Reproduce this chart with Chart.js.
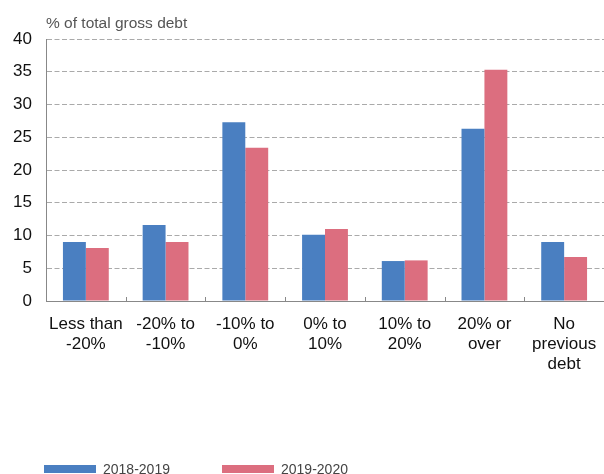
<!DOCTYPE html>
<html>
<head>
<meta charset="utf-8">
<script src="https://cdn.jsdelivr.net/npm/chart.js@4"></script>
<style>
  html, body { margin: 0; padding: 0; background: #fff; }
  #wrap { width: 604px; height: 474px; }
</style>
</head>
<body>
<div id="wrap"><canvas id="debt"></canvas></div>
<script>
const categories = [
    ["Less than", "-20%"],
    ["-20% to", "-10%"],
    ["-10% to", "0%"],
    ["0% to", "10%"],
    ["10% to", "20%"],
    ["20% or", "over"],
    ["No", "previous", "debt"],
];
const share2018 = [9.0, 11.6, 27.3, 10.1, 6.1, 26.3, 9.0];
const share2019 = [8.1, 9.0, 23.4, 11.0, 6.2, 35.3, 6.7];
const yTicks = [0, 5, 10, 15, 20, 25, 30, 35, 40];

const FONT = "'Liberation Sans', Arial, Helvetica, sans-serif";
const BLUE = "#4a7fc1";
const PINK = "#dc6e7f";

// unit label above the y axis
const unitLabel = {
    id: "unitLabel",
    afterDraw(chart) {
        const ctx = chart.ctx;
        ctx.save();
        ctx.font = "15.5px " + FONT;
        ctx.fillStyle = "#555";
        ctx.textAlign = "left";
        ctx.textBaseline = "alphabetic";
        ctx.fillText("% of total gross debt", chart.chartArea.left, 28);
        ctx.restore();
    },
};

// short marks between the category groups, pointing up from the x axis
const groupMarks = {
    id: "groupMarks",
    afterDatasetsDraw(chart) {
        const ctx = chart.ctx;
        const x = chart.scales.x;
        const bottom = chart.chartArea.bottom;
        ctx.save();
        ctx.strokeStyle = "#888";
        ctx.lineWidth = 1;
        ctx.beginPath();
        for (let i = 1; i < chart.data.labels.length; i++) {
            const px = Math.round((x.getPixelForTick(i - 1) + x.getPixelForTick(i)) / 2) + 0.5;
            ctx.moveTo(px, bottom);
            ctx.lineTo(px, bottom - 4);
        }
        ctx.stroke();
        ctx.restore();
    },
};

// legend row along the bottom edge
const bottomLegend = {
    id: "bottomLegend",
    afterDraw(chart) {
        const ctx = chart.ctx;
        const xs = [44, 222];
        ctx.save();
        ctx.font = "14px " + FONT;
        ctx.textBaseline = "alphabetic";
        chart.data.datasets.forEach((ds, i) => {
            ctx.fillStyle = ds.backgroundColor;
            ctx.fillRect(xs[i], 465, 52, 8);
            ctx.fillStyle = "#444";
            ctx.fillText(ds.label, xs[i] + 59, 474);
        });
        ctx.restore();
    },
};

new Chart(document.querySelector("#debt"), {
    type: "bar",
    data: {
        labels: categories,
        datasets: [
            { label: "2018-2019", data: share2018, backgroundColor: BLUE },
            { label: "2019-2020", data: share2019, backgroundColor: PINK },
        ],
    },
    options: {
        responsive: true,
        maintainAspectRatio: false,
        animation: false,
        datasets: {
            bar: { categoryPercentage: 0.575, barPercentage: 1.0, borderWidth: 0 },
        },
        layout: { padding: { top: 39, right: 0, bottom: 0, left: 0 } },
        plugins: {
            legend: { display: false },
            tooltip: { enabled: false },
        },
        scales: {
            x: {
                grid: { display: false },
                border: { display: true, color: "#888", width: 1 },
                ticks: {
                    color: "#111",
                    padding: 5,
                    maxRotation: 0,
                    autoSkip: false,
                    font: { family: FONT, size: 17, lineHeight: 1.18 },
                },
                afterFit(scale) {
                    scale.height = 173;
                    scale.paddingLeft = 0;
                    scale.paddingRight = 0;
                },
            },
            y: {
                min: 0,
                max: 40,
                afterBuildTicks(scale) {
                    scale.ticks = yTicks.map((v) => ({ value: v }));
                },
                grid: {
                    drawTicks: false,
                    color: "#aaa",
                },
                border: { display: true, color: "#888", width: 1, dash: [5, 2.5] },
                ticks: {
                    color: "#111",
                    padding: 14,
                    font: { family: FONT, size: 17 },
                },
                afterFit(scale) {
                    scale.width = 46;
                },
            },
        },
    },
    plugins: [unitLabel, groupMarks, bottomLegend],
});
</script>
</body>
</html>
